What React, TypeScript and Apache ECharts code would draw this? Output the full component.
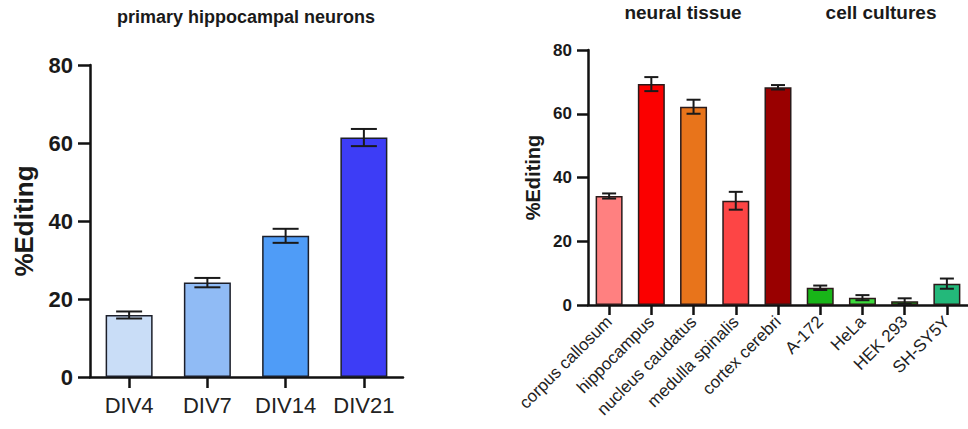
import React, { useEffect, useRef } from "react";
import * as echarts from "echarts";

const leftTitle = "primary hippocampal neurons";
const leftCategories = ["DIV4", "DIV7", "DIV14", "DIV21"];
const leftValues = [15.9, 24.2, 36.2, 61.4];
const leftErrors = [0.9, 1.2, 1.8, 2.2];
const leftColors = ["#c9ddf7", "#90bbf5", "#4f9cf7", "#3d3df6"];

const rightTitles = ["neural tissue", "cell cultures"];
const rightCategories = [
  "corpus callosum",
  "hippocampus",
  "nucleus caudatus",
  "medulla spinalis",
  "cortex cerebri",
  "A-172",
  "HeLa",
  "HEK 293",
  "SH-SY5Y",
];
const rightValues = [34.2, 69.3, 62.2, 32.7, 68.3, 5.4, 2.3, 1.2, 6.7];
const rightErrors = [0.8, 2.2, 2.2, 2.8, 0.7, 0.7, 0.8, 0.9, 1.6];
const rightColors = [
  "#ff8080",
  "#fb0000",
  "#e8741b",
  "#fd4545",
  "#990000",
  "#18b518",
  "#3cd93c",
  "#1aa51a",
  "#23b87a",
];

const yTicks = [0, 20, 40, 60, 80];
const yName = "%Editing";

const FONT = "'Liberation Sans', Arial, Helvetica, sans-serif";

function errorSeries(xAxisIndex: number, yAxisIndex: number, values: number[], errors: number[], cap: number) {
  return {
    type: "custom",
    xAxisIndex,
    yAxisIndex,
    z: 10,
    data: values.map((v, i) => [i, v, errors[i]]),
    encode: { x: 0, y: 1 },
    renderItem: (params: any, api: any) => {
      const x = api.value(0);
      const v = api.value(1);
      const e = api.value(2);
      const top = api.coord([x, v + e]);
      const bot = api.coord([x, v - e]);
      const h = cap / 2;
      const style = { stroke: "#1a1a1a", lineWidth: 2 };
      return {
        type: "group",
        children: [
          { type: "line", shape: { x1: top[0], y1: top[1], x2: bot[0], y2: bot[1] }, style },
          { type: "line", shape: { x1: top[0] - h, y1: top[1], x2: top[0] + h, y2: top[1] }, style },
          { type: "line", shape: { x1: bot[0] - h, y1: bot[1], x2: bot[0] + h, y2: bot[1] }, style },
        ],
      };
    },
  };
}

export default function App() {
  const ref = useRef<HTMLDivElement>(null);
  useEffect(() => {
    if (!ref.current) return;
    const chart = echarts.init(ref.current, undefined, { renderer: "svg" });
    const axisLineStyle = { color: "#111", width: 2.5 };
    const tickStyle = { color: "#111", width: 2.5 };
    const yMin = yTicks[0];
    const yMax = yTicks[yTicks.length - 1];
    const yInterval = yTicks[1] - yTicks[0];
    const option: any = {
      animation: false,
      textStyle: { fontFamily: FONT },
      graphic: [
        {
          type: "text",
          x: 246,
          y: 17,
          style: {
            text: leftTitle,
            textAlign: "center",
            textVerticalAlign: "middle",
            font: `bold 18px ${FONT}`,
            fill: "#1a1a1a",
          },
        },
        {
          type: "text",
          x: 683,
          y: 12,
          style: {
            text: rightTitles[0],
            textAlign: "center",
            textVerticalAlign: "middle",
            font: `bold 19px ${FONT}`,
            fill: "#1a1a1a",
          },
        },
        {
          type: "text",
          x: 881,
          y: 12,
          style: {
            text: rightTitles[1],
            textAlign: "center",
            textVerticalAlign: "middle",
            font: `bold 19px ${FONT}`,
            fill: "#1a1a1a",
          },
        },
      ],
      grid: [
        { left: 90, right: 968 - 403, top: 65, bottom: 429 - 377 },
        { left: 588, right: 0, top: 50, bottom: 429 - 305 },
      ],
      xAxis: [
        {
          gridIndex: 0,
          type: "category",
          data: leftCategories,
          axisLine: { show: true, lineStyle: axisLineStyle },
          axisTick: { show: true, alignWithLabel: true, interval: 0, length: 11, lineStyle: tickStyle },
          axisLabel: { color: "#222", fontSize: 22, margin: 17, interval: 0, fontFamily: FONT },
        },
        {
          gridIndex: 1,
          type: "category",
          data: rightCategories,
          axisLine: { show: true, lineStyle: axisLineStyle },
          axisTick: { show: true, alignWithLabel: true, interval: 0, length: 10, lineStyle: tickStyle },
          axisLabel: { color: "#222", fontSize: 17, margin: 14, rotate: 45, interval: 0, fontFamily: FONT },
        },
      ],
      yAxis: [
        {
          gridIndex: 0,
          type: "value",
          min: yMin,
          max: yMax,
          interval: yInterval,
          name: yName,
          nameLocation: "middle",
          nameGap: 53,
          nameRotate: 90,
          nameTextStyle: { fontSize: 26, fontWeight: "bold", color: "#1a1a1a", fontFamily: FONT },
          axisLine: { show: true, lineStyle: axisLineStyle },
          axisTick: { show: true, length: 12, lineStyle: tickStyle },
          axisLabel: { fontSize: 22, fontWeight: "bold", color: "#1a1a1a", margin: 17, fontFamily: FONT },
          splitLine: { show: false },
        },
        {
          gridIndex: 1,
          type: "value",
          min: yMin,
          max: yMax,
          interval: yInterval,
          name: yName,
          nameLocation: "middle",
          nameGap: 45,
          nameRotate: 90,
          nameTextStyle: { fontSize: 20, fontWeight: "bold", color: "#1a1a1a", fontFamily: FONT },
          axisLine: { show: true, lineStyle: axisLineStyle },
          axisTick: { show: true, length: 11, lineStyle: tickStyle },
          axisLabel: { fontSize: 17, fontWeight: "bold", color: "#1a1a1a", margin: 16, fontFamily: FONT },
          splitLine: { show: false },
        },
      ],
      series: [
        {
          type: "bar",
          xAxisIndex: 0,
          yAxisIndex: 0,
          barWidth: 47,
          data: leftValues.map((v, i) => ({
            value: v,
            itemStyle: { color: leftColors[i], borderColor: "#1c1f2a", borderWidth: 1.5 },
          })),
        },
        errorSeries(0, 0, leftValues, leftErrors, 26),
        {
          type: "bar",
          xAxisIndex: 1,
          yAxisIndex: 1,
          barWidth: 27,
          data: rightValues.map((v, i) => ({
            value: v,
            itemStyle: { color: rightColors[i], borderColor: "#2a1a1a", borderWidth: 1.5 },
          })),
        },
        errorSeries(1, 1, rightValues, rightErrors, 14),
      ],
    };
    chart.setOption(option);
    return () => chart.dispose();
  }, []);
  return (
    <div
      ref={ref}
      style={{ position: "fixed", left: 0, top: 0, width: 968, height: 429, background: "#fff" }}
    />
  );
}
